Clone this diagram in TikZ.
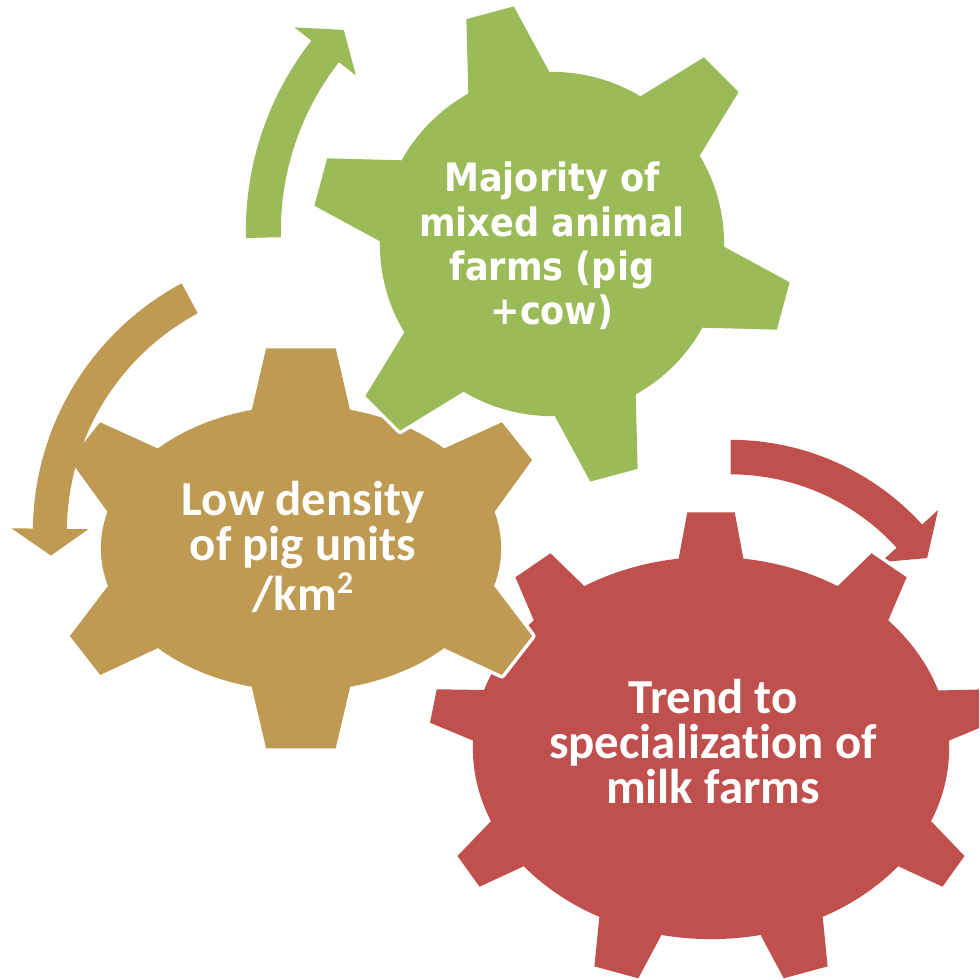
\documentclass[tikz,border=0pt]{standalone}
\usepackage{fontspec}
\usetikzlibrary{calc}
\newfontfamily\greenfont{DejaVu Sans Condensed}
\newfontfamily\calfont{Carlito}[Ligatures={NoCommon,NoContextual}]
\definecolor{gGreen}{HTML}{9BBB59}
\definecolor{gTan}{HTML}{BF9A52}
\definecolor{gRed}{HTML}{C0504D}

% curved arrow: #1 centre, #2 tail angle, #3 head-base angle, #4 tip angle, #5 outer r, #6 inner r, #7 colour
\newcommand\gearArrow[7]{%
  \pgfmathsetmacro\rBo{#5+0.215}%
  \pgfmathsetmacro\rBi{#6-0.215}%
  \pgfmathsetmacro\rMid{(#5+#6)/2}%
  \fill[#7] ($(#1)+(#2:#5cm)$) arc[start angle=#2, end angle=#3, radius=#5cm]
    -- ($(#1)+(#3:\rBo cm)$) -- ($(#1)+(#4:\rMid cm)$) -- ($(#1)+(#3:\rBi cm)$)
    -- ($(#1)+(#3:#6cm)$) arc[start angle=#3, end angle=#2, radius=#6cm] -- cycle;
}

\newcommand\redGear[1]{%
  \path[#1] (Rc) ellipse[x radius=2.38cm, y radius=1.91cm];
  \path[#1] (678.4,560) -- (687.3,512.3) -- (734.7,512.3) -- (743.6,560) -- (Rc) -- cycle;
  \path[#1] (837.1,586.7) -- (871.5,553.3) -- (906.6,577.3) -- (888,620.8) -- (Rc) -- cycle;
  \path[#1] (937,690.5) -- (985.3,689.3) -- (992,722.7) -- (948.7,740.7) -- (Rc) -- cycle;
  \path[#1] (931.6,821.7) -- (964.5,856) -- (942.5,886.7) -- (898.8,866.5) -- (Rc) -- cycle;
  \path[#1] (822.8,918) -- (827.6,966.4) -- (783.7,978.3) -- (761.5,936.7) -- (Rc) -- cycle;
  \path[#1] (660.5,936.7) -- (638.3,978.3) -- (594.4,966.4) -- (599.2,918) -- (Rc) -- cycle;
  \path[#1] (523.2,866.5) -- (479.5,886.7) -- (457.5,856) -- (490.4,821.7) -- (Rc) -- cycle;
  \path[#1] (473.3,740.7) -- (430,722.7) -- (436.7,689.3) -- (485,690) -- (Rc) -- cycle;
  \path[#1] (534,620.8) -- (515.4,577.3) -- (550.5,553.3) -- (584.9,586.7) -- (Rc) -- cycle;
}

\newcommand\tanGear[1]{%
  \path[#1] (Tc) ellipse[x radius=2cm, y radius=1.427cm];
  \path[#1] (251.8,410) -- (266.1,348.3) -- (335.7,348.3) -- (350,410) -- (Tc) -- cycle;
  \path[#1] (444.6,448.3) -- (501.8,422.3) -- (532.1,460) -- (494.6,511.7) -- (Tc) -- cycle;
  \path[#1] (494.6,586.7) -- (532.1,636) -- (501.8,675) -- (444.6,648.3) -- (Tc) -- cycle;
  \path[#1] (350,687.3) -- (335.7,748.3) -- (266.1,748.3) -- (251.8,687.3) -- (Tc) -- cycle;
  \path[#1] (157.4,648.3) -- (100.2,675) -- (69.9,636) -- (107.4,586.7) -- (Tc) -- cycle;
  \path[#1] (107.4,511.7) -- (69.9,460) -- (100.2,422.3) -- (157.4,448.3) -- (Tc) -- cycle;
}

\newcommand\greenGear[1]{%
  \path[#1] (Gc) circle[radius=1.72cm];
  \foreach \a in {105,45,-15,-75,-135,165}{%
    \path[#1] ($(Gc)+(\a-5.85:2.405cm)$) -- ($(Gc)+(\a+5.85:2.405cm)$)
      -- ($(Gc)+(\a+14.1:1.72cm)$) -- (Gc) -- ($(Gc)+(\a-14.1:1.72cm)$) -- cycle;
  }%
}

\newcommand\supTwo{\raisebox{0.36em}{\fontsize{9pt}{9pt}\selectfont 2}}

\tikzset{
  gearedge/.style={draw=white, line width=2pt, line join=round},
  gtext/.style={text=white, align=center, inner sep=0pt},
}

\begin{document}
\begin{tikzpicture}[x=0.01cm, y=-0.01cm]
  \useasboundingbox (0,0) rectangle (979,980);
  \clip (0,0) rectangle (979,980);

  \coordinate (Gc) at (552,244);
  \coordinate (Tc) at (301,548.3);
  \coordinate (Rc) at (711,748);
  \coordinate (GAc) at (555,231);
  \coordinate (TAc) at (315,532);
  \coordinate (RAc) at (730.7,698.7);

  % red arrow and gear
  \gearArrow{RAc}{90}{42.3}{35.6}{2.587}{2.242}{gRed}
  \redGear{gearedge}
  \redGear{fill=gRed}

  % tan gear and arrow
  \tanGear{gearedge}
  \tanGear{fill=gTan}
  \gearArrow{TAc}{118.2}{179.3}{185.1}{2.82}{2.48}{gTan}

  % green gear and arrow
  \greenGear{gearedge}
  \greenGear{fill=gGreen}
  \gearArrow{GAc}{181.3}{142}{136.4}{3.09}{2.74}{gGreen}

  % texts
  \node[gtext, font=\greenfont\bfseries\fontsize{11.1pt}{12.63pt}\selectfont] (txtG) at (552,246)
    {Majority of\\mixed animal\\farms (pig\\+cow)};
  \node[gtext, font=\calfont\bfseries\fontsize{13.9pt}{12.8pt}\selectfont] (txtT) at (303,547)
    {Low density\\of pig units\\/km\supTwo};
  \node[gtext, font=\calfont\bfseries\fontsize{13.9pt}{12.8pt}\selectfont] (txtR) at (713,742)
    {Trend to\\specialization of\\milk farms};
\end{tikzpicture}
\end{document}
